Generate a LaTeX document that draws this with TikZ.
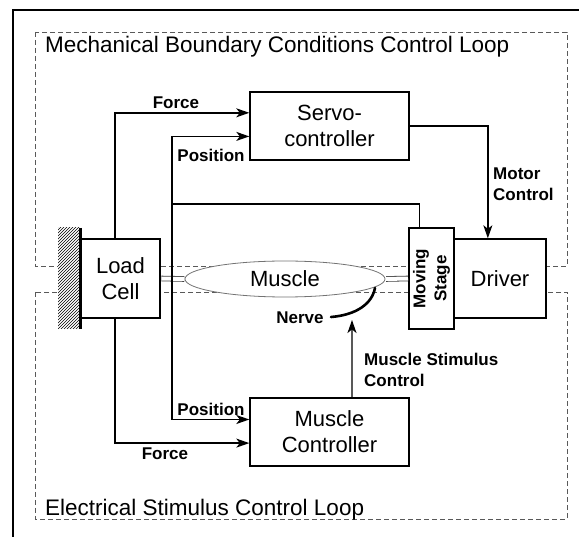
\documentclass[tikz,border=0pt]{standalone}
\usepackage{fontspec}
\setmainfont{Liberation Sans}
\usetikzlibrary{arrows.meta,calc,shapes.geometric}
\newcommand\bigtxt{\fontsize{22}{26}\selectfont}
\newcommand\looptxt{\fontsize{22.5}{26}\selectfont}
\newcommand\lblfont{\fontsize{17}{21}\selectfont\bfseries}
\begin{document}
\begin{tikzpicture}[x=1pt,y=-1pt,
  box/.style={draw, line width=1.4pt, fill=white, inner sep=0pt, font=\bigtxt, align=center},
  conn/.style={line width=1.4pt},
  arr/.style={conn, -{Stealth[length=13pt,width=9pt,inset=3.5pt]}},
  loopbox/.style={draw=black!65, line width=0.9pt, dash pattern=on 5pt off 3pt},
  lbl/.style={font=\lblfont, inner sep=0pt},
  rod/.style={draw=black!75, line width=0.8pt, double=white, double distance=4pt, shorten <=0.7pt, shorten >=0.3pt}]
\useasboundingbox (0,0) rectangle (579,537);
\clip (0,0) rectangle (579,537);
% outer frame
\draw[line width=1.8pt] (13,560) -- (13,10) -- (600,10);
% loop boxes
\draw[loopbox] (35,32) rectangle (567,266);
\draw[loopbox] (35,292) rectangle (567,519);
\node[font=\looptxt, anchor=base west, inner sep=0pt] (mlab) at (45,53) {Mechanical Boundary Conditions Control Loop};
\node[font=\looptxt, anchor=base west, inner sep=0pt] (elab) at (45,516) {Electrical Stimulus Control Loop};
% wall
\fill[white] (58,228) rectangle (80,329);
\begin{scope}
\clip (58,228) rectangle (80,329);
\foreach \i in {0,3,...,141}
  \draw[line width=0.7pt] (54,228+\i) -- (94,188+\i);
\end{scope}
\draw[line width=3pt] (80,228) -- (80,329);
% nodes
\node[box, minimum width=79pt, minimum height=79pt] (lc) at (120.5,278.5) {Load\\Cell};
\node[box, minimum width=159pt, minimum height=68pt] (servo) at (329.5,126) {Servo-\\controller};
\node[box, minimum width=159pt, minimum height=68pt] (mc) at (329.5,432) {Muscle\\Controller};
\node[box, minimum width=45pt, minimum height=101pt] (ms) at (431.5,278.5) {};
\node[lbl, rotate=90, align=center] (mstxt) at (ms.center) {Moving\\Stage};
\node[box, minimum width=92pt, minimum height=79pt] (drv) at (500,278.5) {Driver};
\node[ellipse, draw=black!55, line width=0.8pt, fill=white, minimum width=200pt, minimum height=36pt, inner sep=0pt, font=\bigtxt] (mus) at (285,279) {Muscle};
% rods
\draw[rod] (lc.east) -- (mus.west);
\draw[rod] (mus.east) -- (ms.west);
% helper coordinates
\coordinate (fx) at (115,0);
\coordinate (px) at (172,0);
\coordinate (fs) at ($(servo.north west)!0.31!(servo.south west)$);
\coordinate (ps) at ($(servo.north west)!0.65!(servo.south west)$);
\coordinate (pm) at ($(mc.north west)!0.32!(mc.south west)$);
\coordinate (fm) at ($(mc.north west)!0.66!(mc.south west)$);
\coordinate (pb) at (172,204);
\coordinate (mstop) at ($(ms.north west)!0.24!(ms.north east)$);
\coordinate (dtop) at ($(drv.north west)!0.37!(drv.north east)$);
\coordinate (mcout) at ($(mc.north west)!0.64!(mc.north east)$);
\coordinate (ntip) at (352,320);
% connectors
\draw[arr] (lc.north -| fx) |- (fs);
\draw[arr] (lc.south -| fx) |- (fm);
\draw[arr] (pm -| px) |- (ps);
\draw[arr] (ps -| px) |- (pm);
\draw[conn] (pb) -| (mstop);
\draw[arr] (servo.east) -| (dtop);
\draw[arr] (mcout) -- (ntip);
% nerve
\draw[line width=2.6pt, line cap=round] (375,288) .. controls (372,304) and (356,315) .. (331,317);
% labels
\node[lbl] (lf1) at (176,103) {Force};
\node[lbl] (lp1) at (211,155) {Position};
\node[lbl] (lp2) at (211,409) {Position};
\node[lbl] (lf2) at (165,454) {Force};
\node[lbl] (lnerve) at (300,318) {Nerve};
\node[lbl, anchor=west, align=left] (lmotor) at (493,184) {Motor\\Control};
\node[lbl, anchor=west, align=left] (lstim) at (364,370) {Muscle Stimulus\\Control};
\end{tikzpicture}
\end{document}
